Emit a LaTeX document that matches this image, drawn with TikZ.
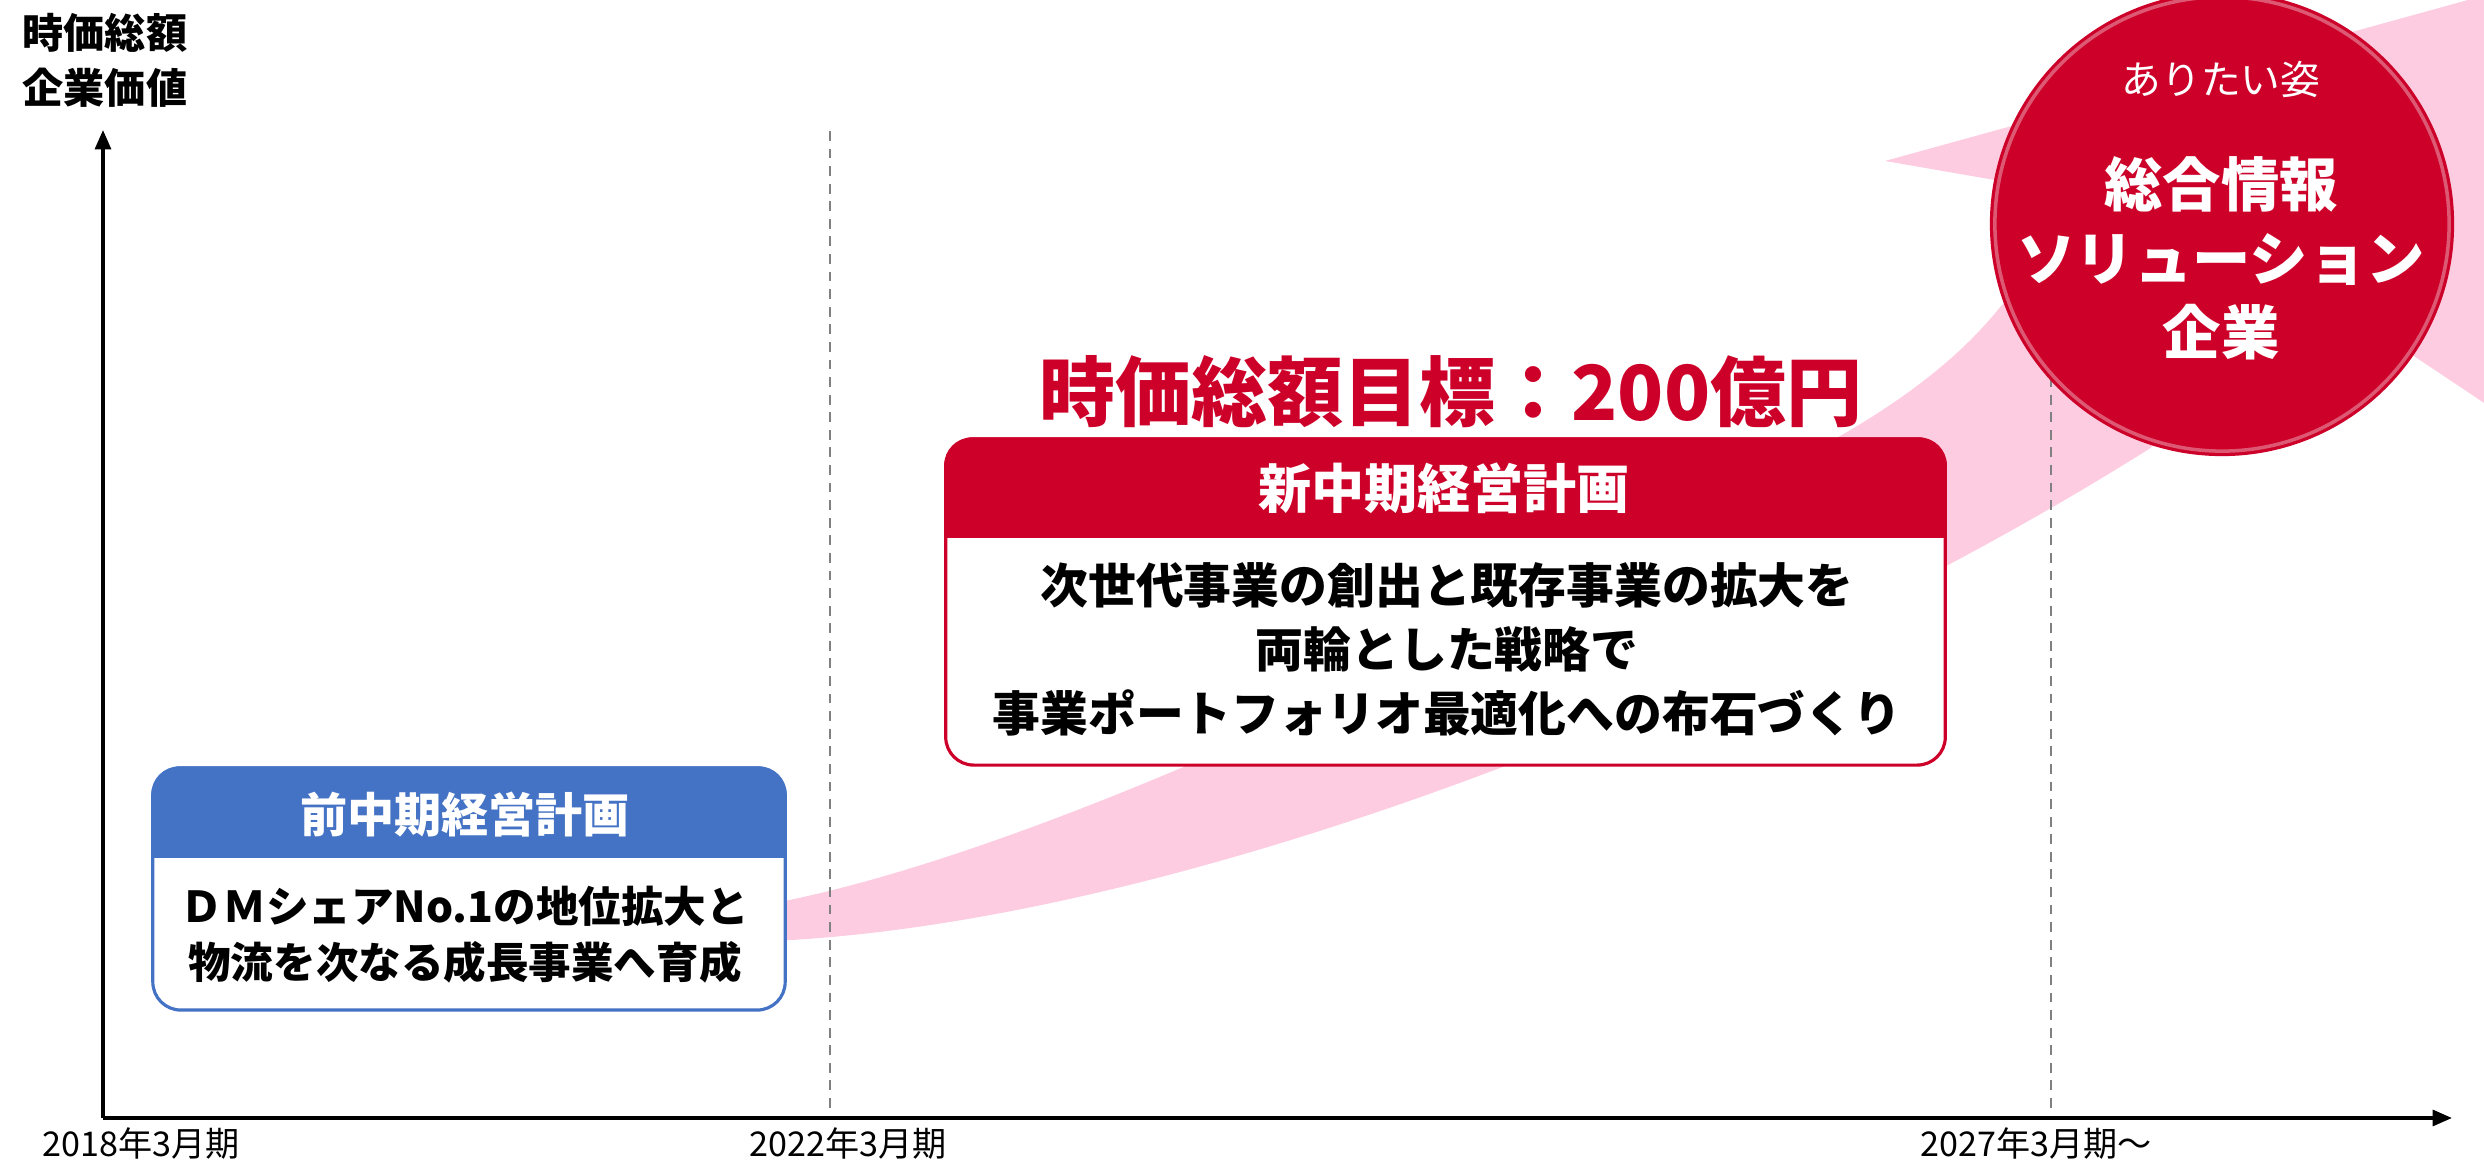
\documentclass[tikz,border=0pt]{standalone}
\usepackage{fontspec}
\setmainfont{Noto Sans CJK JP}
\usetikzlibrary{arrows.meta}
\definecolor{planred}{RGB}{204,0,41}
\definecolor{planblue}{RGB}{68,114,196}
\definecolor{swoosh}{RGB}{253,204,224}
\definecolor{guide}{RGB}{128,128,128}

\begin{document}
\begin{tikzpicture}[x=0.01cm, y=-0.01cm,
    axis/.style={line width=1pt, -{Triangle[length=5.5pt,width=4.5pt]}},
    guideline/.style={guide, line width=0.6pt, dash pattern=on 2.8pt off 2.2pt},
    ticklabel/.style={font=\fontsize{9.7}{11}\selectfont},
    planbox/.style={draw=#1, fill=white, line width=0.9pt, rounded corners=0.28cm, inner sep=0pt}]
    \useasboundingbox (0,0) rectangle (2484,1168);
    \clip (0,0) rectangle (2484,1168);
    \fill[swoosh] (740,909) .. controls (1000,870) and (1450,660) .. (1826,444)
        .. controls (1920,392) and (1970,345) .. (2001,306) -- (2110,200) -- (1885,161)
        -- (2620,-42) -- (2580,467) -- (2330,300) -- (2149,449)
        .. controls (1750,700) and (1150,935) .. (740,942) -- cycle;
    \coordinate (origin) at (103,1118);
    \coordinate (ytip) at (103,130);
    \coordinate (xtip) at (2452,1118);
    \coordinate (g22top) at (830,131);
    \coordinate (g22) at (830,1118);
    \coordinate (g27top) at (2051,131);
    \coordinate (g27) at (2051,1118);
    \draw[guideline] (g22top) -- (g22);
    \draw[guideline] (g27top) -- (g27);
    \draw[axis] (origin) -- (ytip);
    \draw[axis] (origin) -- (xtip);
    \node[font=\bfseries\fontsize{11.7}{14}\selectfont] (ylaba) at (105,33) {時価総額};
    \node[font=\bfseries\fontsize{11.7}{14}\selectfont] (ylabb) at (105,88) {企業価値};
    \node[ticklabel] (t18) at (141,1144) {2018年3月期};
    \node[ticklabel] (t22) at (848,1144) {2022年3月期};
    \node[ticklabel] (t27) at (2036,1144) {2027年3月期～};
    \node[text=planred, font=\bfseries\fontsize{21.6}{26}\selectfont] (target) at (1451,392) {時価総額目標：200億円};
    \node[planbox=planred, minimum width=9.99cm, minimum height=3.26cm] (newplan) at (1445.5,602) {};
    \coordinate (newsplit) at (0,538);
    \begin{scope}
        \clip (newplan.north west) rectangle (newplan.east |- newsplit);
        \fill[planred, rounded corners=0.28cm] (newplan.north west) rectangle (newplan.south east);
    \end{scope}
    \node[text=white, font=\bfseries\fontsize{15.1}{18}\selectfont] (newtitle) at (1444,488) {新中期経営計画};
    \node[align=center, font=\bfseries\fontsize{13.6}{18.2}\selectfont] (newbody) at (1447,649)
        {次世代事業の創出と既存事業の拡大を\\両輪とした戦略で\\事業ポートフォリオ最適化への布石づくり};
    \node[planbox=planblue, minimum width=6.32cm, minimum height=2.42cm] (prevplan) at (469,889) {};
    \coordinate (prevsplit) at (0,858);
    \begin{scope}
        \clip (prevplan.north west) rectangle (prevplan.east |- prevsplit);
        \fill[planblue, rounded corners=0.28cm] (prevplan.north west) rectangle (prevplan.south east);
    \end{scope}
    \node[text=white, font=\bfseries\fontsize{13.4}{16}\selectfont] (prevtitle) at (465,815) {前中期経営計画};
    \node[align=center, font=\bfseries\fontsize{12.1}{15.9}\selectfont] (prevbody) at (465,935)
        {ＤＭシェアNo.1の地位拡大と\\物流を次なる成長事業へ育成};
    \node[circle, fill=planred, minimum size=4.64cm, inner sep=0pt] (goal) at (2222,224) {};
    \draw[white, opacity=0.35, line width=1pt] (goal.center) circle (2.27cm);
    \node[text=white, font=\fontsize{11.3}{13}\selectfont] (goalkicker) at (2221,79) {ありたい姿};
    \node[text=white, align=center, font=\bfseries\fontsize{16.6}{21}\selectfont] (goaltext) at (2221,258)
        {総合情報\\ソリューション\\企業};
\end{tikzpicture}
\end{document}
